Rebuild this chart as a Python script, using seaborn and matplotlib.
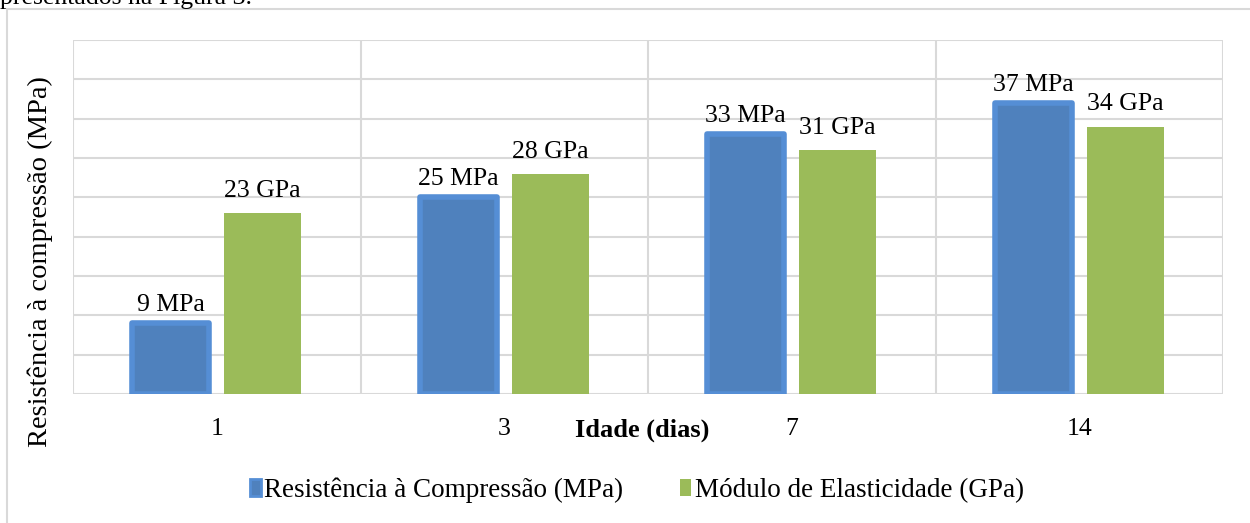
import pandas as pd
import matplotlib.pyplot as plt
import matplotlib.patches as mpatches
import seaborn as sns

# data
idades = ["1", "3", "7", "14"]
resistencia = [9, 25, 33, 37]      # MPa
modulo = [23, 28, 31, 34]          # GPa
serie_res = "Resistência à Compressão (MPa)"
serie_mod = "Módulo de Elasticidade (GPa)"

df = pd.DataFrame({
    "idade": idades * 2,
    "valor": resistencia + modulo,
    "serie": [serie_res] * 4 + [serie_mod] * 4,
})

sns.set_theme(style="white")
plt.rcParams["font.family"] = ["Liberation Serif", "DejaVu Serif"]
plt.rcParams["text.color"] = "black"
plt.rcParams["xtick.color"] = "black"

fig = plt.figure(figsize=(12.5, 5.23), dpi=100)
ax = fig.add_axes([73 / 1250, 1 - 394 / 523, 1150 / 1250, 354 / 523])

sns.barplot(data=df, x="idade", y="valor", hue="serie", order=idades,
            palette=["#4F81BD", "#9BBB59"], saturation=1, width=0.64, gap=0.16,
            ax=ax, legend=False)

# blue bars get the lighter blue outline seen in the reference
for bar in ax.containers[0]:
    bar.set_edgecolor("#558ED5")
    bar.set_linewidth(4)
    bar.set_joinstyle("round")
for bar in ax.containers[1]:
    bar.set_edgecolor("none")

ax.bar_label(ax.containers[0], labels=[f"{v} MPa" for v in resistencia],
             padding=5, fontsize=18.5, color="black")
ax.bar_label(ax.containers[1], labels=[f"{v} GPa" for v in modulo],
             padding=8, fontsize=18.5, color="black")

ax.set_ylim(0, 45)
ax.set_xlim(-0.5, 3.5)
ax.set_yticks(range(0, 46, 5))
ax.set_yticklabels([])
ax.yaxis.grid(True, color="#D9D9D9", linewidth=1.5)
for xb in [-0.5, 0.5, 1.5, 2.5, 3.5]:
    ax.axvline(xb, color="#D9D9D9", linewidth=1.5, zorder=0)
ax.set_axisbelow(True)
for s in ax.spines.values():
    s.set_visible(False)
ax.tick_params(axis="x", length=0, pad=17, labelsize=18.5, labelcolor="black")
ax.tick_params(axis="y", length=0)
ax.set_xlabel("")
ax.set_ylabel("")

fig.text(40 / 1250, 1 - 262 / 523, "Resistência à compressão (MPa)", rotation=90,
         ha="center", va="center", fontsize=20.5)
fig.text(642 / 1250, 1 - 430 / 523, "Idade (dias)", ha="center", va="center",
         fontsize=19, fontweight="bold")

# outer frame of the figure object and the cut caption line above it
fig.patches.append(mpatches.Rectangle((7 / 1250, -0.1), 1.2, 1 - 9 / 523 + 0.1,
                                      transform=fig.transFigure, fill=False,
                                      edgecolor="#D9D9D9", linewidth=1.5))
fig.text(0, 1 - 4 / 523, "presentados na Figura 3.", ha="left", va="baseline",
         fontsize=18.5)

handles = [mpatches.Patch(facecolor="#4F81BD", edgecolor="#558ED5", linewidth=2,
                          label=serie_res),
           mpatches.Patch(facecolor="#9BBB59", edgecolor="none", label=serie_mod)]
fig.legend(handles=handles, loc="center", bbox_to_anchor=(637 / 1250, 1 - 490 / 523),
           ncol=2, frameon=False, fontsize=19.5, handlelength=0.4, handleheight=0.6,
           handletextpad=0.12, columnspacing=2.1, labelcolor="black")

fig.savefig("out.png", dpi=100)
